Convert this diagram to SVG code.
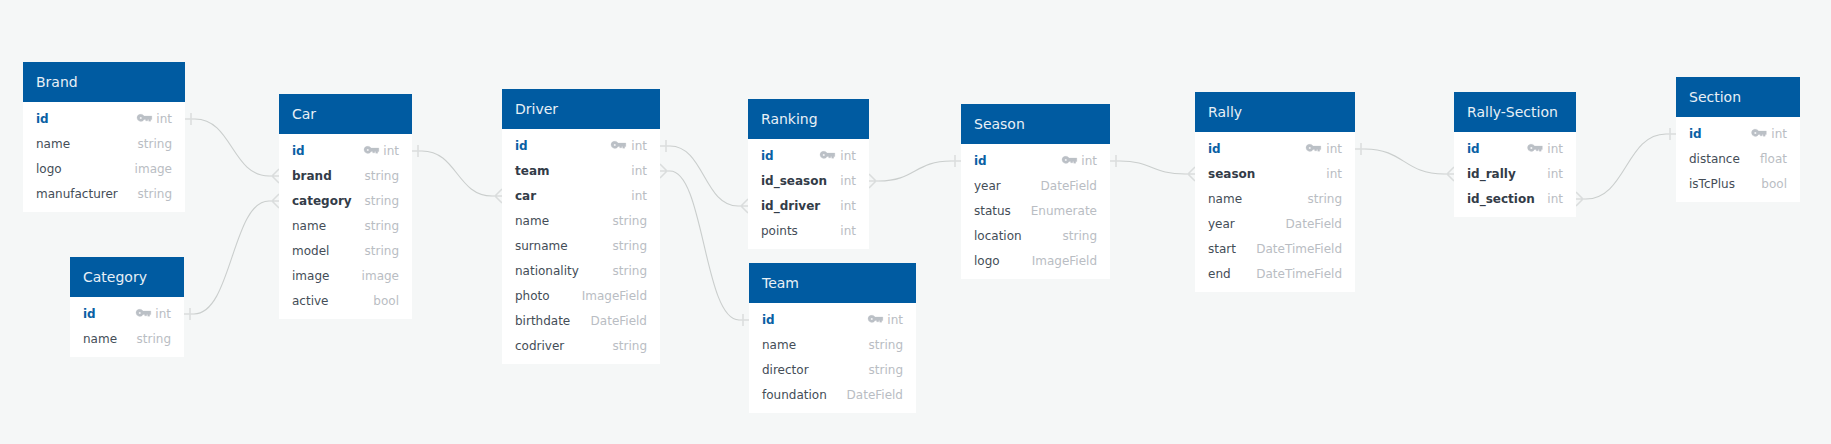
<svg xmlns="http://www.w3.org/2000/svg" xmlns:xlink="http://www.w3.org/1999/xlink" width="1831" height="444" viewBox="0 0 1831 444">
<style>
text{font-family:"DejaVu Sans",sans-serif;font-size:12px}
.h{fill:#005ba1}.b{fill:#fff}
.t{font-size:14px;fill:#e8f0f6}
.f{fill:#444d57}
.r{font-weight:bold;fill:#333c48}
.p{font-weight:bold;fill:#0a60a4}
.y{fill:#b9bdc3;text-anchor:end}
.c path{fill:none;stroke:#cacecd;stroke-width:1.1}
.c path.e{stroke:#dadddd;stroke-width:1.5}
</style>
<defs>
<g id="k"><path d="M0 0a3.800 3.800 0 0 1 7.100-1.900H14.800V1.500H13.700V3.200H11.700V1.500H10.700V2.800H8.700V1.500H7.100A3.800 3.800 0 0 1 0 0zM2.700 0a1.100 1.100 0 1 0 2.200 0a1.100 1.100 0 1 0-2.200 0z" fill="#bbc0c6" stroke="#bbc0c6" stroke-width=".3" fill-rule="evenodd"/></g>
</defs>
<rect width="1831" height="444" fill="#f5f7f7"/>
<g class="c" id="connectors">
<path d="M195 119C232 119 232 176 269 176"/><path class="e" d="M185 119H195M191 113V125M269 176H279M272 176L279 169M272 176L279 183"/>
<path d="M194 314C232 314 232 201 269 201"/><path class="e" d="M184 314H194M190 308V320M269 201H279M272 201L279 194M272 201L279 208"/>
<path d="M422 151C457 151 457 196 492 196"/><path class="e" d="M412 151H422M418 145V157M492 196H502M495 196L502 189M495 196L502 203"/>
<path d="M670 146C704 146 704 206 738 206"/><path class="e" d="M660 146H670M666 140V152M738 206H748M741 206L748 199M741 206L748 213"/>
<path d="M670 171C704 171 704 320 739 320"/><path class="e" d="M660 171H670M667 171L660 164M667 171L660 178M739 320H749M743 314V326"/>
<path d="M879 181C915 181 915 161 951 161"/><path class="e" d="M869 181H879M876 181L869 174M876 181L869 188M951 161H961M955 155V167"/>
<path d="M1120 161C1152 161 1152 174 1185 174"/><path class="e" d="M1110 161H1120M1116 155V167M1185 174H1195M1188 174L1195 167M1188 174L1195 181"/>
<path d="M1365 149C1404 149 1404 174 1444 174"/><path class="e" d="M1355 149H1365M1361 143V155M1444 174H1454M1447 174L1454 167M1447 174L1454 181"/>
<path d="M1586 199C1626 199 1626 134 1666 134"/><path class="e" d="M1576 199H1586M1583 199L1576 192M1583 199L1576 206M1666 134H1676M1670 128V140"/>
</g>
<g id="brand"><rect class="b" x="23" y="62" width="162" height="150"/><rect class="h" x="23" y="62" width="162" height="40"/><text class="t" x="36" y="87">Brand</text>
<text class="p" x="36" y="122.500">id</text><use xlink:href="#k" href="#k" x="137" y="118"/><text class="y" x="172" y="122.500">int</text>
<text class="f" x="36" y="147.500">name</text><text class="y" x="172" y="147.500">string</text>
<text class="f" x="36" y="172.500">logo</text><text class="y" x="172" y="172.500">image</text>
<text class="f" x="36" y="197.500">manufacturer</text><text class="y" x="172" y="197.500">string</text></g>
<g id="category"><rect class="b" x="70" y="257" width="114" height="100"/><rect class="h" x="70" y="257" width="114" height="40"/><text class="t" x="83" y="282">Category</text>
<text class="p" x="83" y="317.500">id</text><use xlink:href="#k" href="#k" x="136" y="313"/><text class="y" x="171" y="317.500">int</text>
<text class="f" x="83" y="342.500">name</text><text class="y" x="171" y="342.500">string</text></g>
<g id="car"><rect class="b" x="279" y="94" width="133" height="225"/><rect class="h" x="279" y="94" width="133" height="40"/><text class="t" x="292" y="119">Car</text>
<text class="p" x="292" y="154.500">id</text><use xlink:href="#k" href="#k" x="364" y="150"/><text class="y" x="399" y="154.500">int</text>
<text class="r" x="292" y="179.500">brand</text><text class="y" x="399" y="179.500">string</text>
<text class="r" x="292" y="204.500">category</text><text class="y" x="399" y="204.500">string</text>
<text class="f" x="292" y="229.500">name</text><text class="y" x="399" y="229.500">string</text>
<text class="f" x="292" y="254.500">model</text><text class="y" x="399" y="254.500">string</text>
<text class="f" x="292" y="279.500">image</text><text class="y" x="399" y="279.500">image</text>
<text class="f" x="292" y="304.500">active</text><text class="y" x="399" y="304.500">bool</text></g>
<g id="driver"><rect class="b" x="502" y="89" width="158" height="275"/><rect class="h" x="502" y="89" width="158" height="40"/><text class="t" x="515" y="114">Driver</text>
<text class="p" x="515" y="149.500">id</text><use xlink:href="#k" href="#k" x="611" y="145"/><text class="y" x="647" y="149.500">int</text>
<text class="r" x="515" y="174.500">team</text><text class="y" x="647" y="174.500">int</text>
<text class="r" x="515" y="199.500">car</text><text class="y" x="647" y="199.500">int</text>
<text class="f" x="515" y="224.500">name</text><text class="y" x="647" y="224.500">string</text>
<text class="f" x="515" y="249.500">surname</text><text class="y" x="647" y="249.500">string</text>
<text class="f" x="515" y="274.500">nationality</text><text class="y" x="647" y="274.500">string</text>
<text class="f" x="515" y="299.500">photo</text><text class="y" x="647" y="299.500">ImageField</text>
<text class="f" x="515" y="324.500">birthdate</text><text class="y" x="647" y="324.500">DateField</text>
<text class="f" x="515" y="349.500">codriver</text><text class="y" x="647" y="349.500">string</text></g>
<g id="ranking"><rect class="b" x="748" y="99" width="121" height="150"/><rect class="h" x="748" y="99" width="121" height="40"/><text class="t" x="761" y="124">Ranking</text>
<text class="p" x="761" y="159.500">id</text><use xlink:href="#k" href="#k" x="820" y="155"/><text class="y" x="856" y="159.500">int</text>
<text class="r" x="761" y="184.500">id_season</text><text class="y" x="856" y="184.500">int</text>
<text class="r" x="761" y="209.500">id_driver</text><text class="y" x="856" y="209.500">int</text>
<text class="f" x="761" y="234.500">points</text><text class="y" x="856" y="234.500">int</text></g>
<g id="team"><rect class="b" x="749" y="263" width="167" height="150"/><rect class="h" x="749" y="263" width="167" height="40"/><text class="t" x="762" y="288">Team</text>
<text class="p" x="762" y="323.500">id</text><use xlink:href="#k" href="#k" x="868" y="319"/><text class="y" x="903" y="323.500">int</text>
<text class="f" x="762" y="348.500">name</text><text class="y" x="903" y="348.500">string</text>
<text class="f" x="762" y="373.500">director</text><text class="y" x="903" y="373.500">string</text>
<text class="f" x="762" y="398.500">foundation</text><text class="y" x="903" y="398.500">DateField</text></g>
<g id="season"><rect class="b" x="961" y="104" width="149" height="175"/><rect class="h" x="961" y="104" width="149" height="40"/><text class="t" x="974" y="129">Season</text>
<text class="p" x="974" y="164.500">id</text><use xlink:href="#k" href="#k" x="1062" y="160"/><text class="y" x="1097" y="164.500">int</text>
<text class="f" x="974" y="189.500">year</text><text class="y" x="1097" y="189.500">DateField</text>
<text class="f" x="974" y="214.500">status</text><text class="y" x="1097" y="214.500">Enumerate</text>
<text class="f" x="974" y="239.500">location</text><text class="y" x="1097" y="239.500">string</text>
<text class="f" x="974" y="264.500">logo</text><text class="y" x="1097" y="264.500">ImageField</text></g>
<g id="rally"><rect class="b" x="1195" y="92" width="160" height="200"/><rect class="h" x="1195" y="92" width="160" height="40"/><text class="t" x="1208" y="117">Rally</text>
<text class="p" x="1208" y="152.500">id</text><use xlink:href="#k" href="#k" x="1306" y="148"/><text class="y" x="1342" y="152.500">int</text>
<text class="r" x="1208" y="177.500">season</text><text class="y" x="1342" y="177.500">int</text>
<text class="f" x="1208" y="202.500">name</text><text class="y" x="1342" y="202.500">string</text>
<text class="f" x="1208" y="227.500">year</text><text class="y" x="1342" y="227.500">DateField</text>
<text class="f" x="1208" y="252.500">start</text><text class="y" x="1342" y="252.500">DateTimeField</text>
<text class="f" x="1208" y="277.500">end</text><text class="y" x="1342" y="277.500">DateTimeField</text></g>
<g id="rally-section"><rect class="b" x="1454" y="92" width="122" height="125"/><rect class="h" x="1454" y="92" width="122" height="40"/><text class="t" x="1467" y="117">Rally-Section</text>
<text class="p" x="1467" y="152.500">id</text><use xlink:href="#k" href="#k" x="1527.500" y="148"/><text class="y" x="1563" y="152.500">int</text>
<text class="r" x="1467" y="177.500">id_rally</text><text class="y" x="1563" y="177.500">int</text>
<text class="r" x="1467" y="202.500">id_section</text><text class="y" x="1563" y="202.500">int</text></g>
<g id="section"><rect class="b" x="1676" y="77" width="124" height="125"/><rect class="h" x="1676" y="77" width="124" height="40"/><text class="t" x="1689" y="102">Section</text>
<text class="p" x="1689" y="137.500">id</text><use xlink:href="#k" href="#k" x="1751.500" y="133"/><text class="y" x="1787" y="137.500">int</text>
<text class="f" x="1689" y="162.500">distance</text><text class="y" x="1787" y="162.500">float</text>
<text class="f" x="1689" y="187.500">isTcPlus</text><text class="y" x="1787" y="187.500">bool</text></g>
</svg>
